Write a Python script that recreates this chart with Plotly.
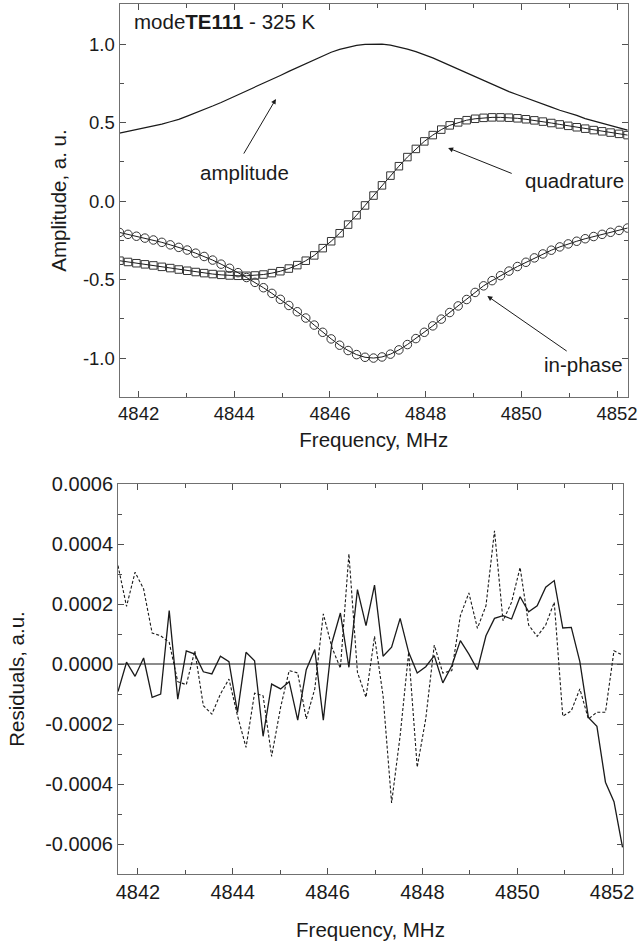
import plotly.graph_objects as go

# ---------------- data: top panel ----------------
freq_top = [4841.600, 4841.777, 4841.954, 4842.131, 4842.308, 4842.485, 4842.662, 4842.839,
            4843.016, 4843.193, 4843.370, 4843.547, 4843.724, 4843.901, 4844.078, 4844.255,
            4844.432, 4844.609, 4844.786, 4844.963, 4845.140, 4845.317, 4845.494, 4845.671,
            4845.848, 4846.025, 4846.202, 4846.379, 4846.556, 4846.733, 4846.910, 4847.087,
            4847.264, 4847.441, 4847.618, 4847.795, 4847.972, 4848.149, 4848.326, 4848.503,
            4848.680, 4848.857, 4849.034, 4849.211, 4849.388, 4849.565, 4849.742, 4849.919,
            4850.096, 4850.273, 4850.450, 4850.627, 4850.804, 4850.981, 4851.158, 4851.335,
            4851.512, 4851.689, 4851.866, 4852.043, 4852.220]

amplitude = [0.433, 0.444, 0.455, 0.466, 0.477, 0.490, 0.505, 0.520, 0.541, 0.561, 0.583,
             0.605, 0.628, 0.652, 0.676, 0.700, 0.724, 0.749, 0.775, 0.800, 0.826, 0.851,
             0.876, 0.900, 0.925, 0.948, 0.966, 0.980, 0.991, 0.998, 1.000, 0.999, 0.993,
             0.982, 0.968, 0.952, 0.933, 0.912, 0.888, 0.864, 0.840, 0.815, 0.790, 0.765,
             0.741, 0.718, 0.697, 0.677, 0.656, 0.636, 0.617, 0.598, 0.578, 0.562, 0.546,
             0.525, 0.510, 0.494, 0.480, 0.466, 0.452]

quadrature = [-0.380, -0.388, -0.396, -0.403, -0.410, -0.419, -0.427, -0.436, -0.444, -0.452,
              -0.459, -0.465, -0.470, -0.474, -0.476, -0.476, -0.474, -0.468, -0.459, -0.447,
              -0.430, -0.408, -0.380, -0.346, -0.300, -0.256, -0.205, -0.150, -0.090, -0.028,
              0.035, 0.100, 0.162, 0.222, 0.280, 0.332, 0.380, 0.420, 0.455, 0.482,
              0.501, 0.515, 0.524, 0.530, 0.533, 0.533, 0.531, 0.527, 0.521, 0.514,
              0.506, 0.497, 0.488, 0.479, 0.470, 0.461, 0.452, 0.444, 0.436, 0.428, 0.420]

in_phase = [-0.200, -0.212, -0.224, -0.236, -0.248, -0.263, -0.279, -0.295, -0.312, -0.332,
            -0.353, -0.376, -0.402, -0.428, -0.456, -0.487, -0.518, -0.552, -0.588, -0.626,
            -0.665, -0.705, -0.745, -0.790, -0.836, -0.878, -0.918, -0.952, -0.978, -0.995,
            -1.000, -0.993, -0.975, -0.948, -0.914, -0.876, -0.836, -0.795, -0.752, -0.710,
            -0.668, -0.627, -0.582, -0.540, -0.507, -0.475, -0.446, -0.417, -0.390, -0.362,
            -0.337, -0.313, -0.292, -0.273, -0.256, -0.240, -0.226, -0.212, -0.199, -0.187, -0.172]

# ---------------- data: residuals panel ----------------
freq_res = [4841.58, 4841.76, 4841.94, 4842.12, 4842.30, 4842.48, 4842.66, 4842.84, 4843.02,
            4843.20, 4843.38, 4843.56, 4843.74, 4843.92, 4844.10, 4844.28, 4844.46, 4844.64,
            4844.82, 4845.01, 4845.19, 4845.37, 4845.55, 4845.73, 4845.91, 4846.09, 4846.27,
            4846.45, 4846.63, 4846.81, 4846.99, 4847.17, 4847.35, 4847.53, 4847.71, 4847.89,
            4848.07, 4848.25, 4848.43, 4848.62, 4848.80, 4848.98, 4849.16, 4849.34, 4849.52,
            4849.70, 4849.88, 4850.06, 4850.24, 4850.42, 4850.60, 4850.78, 4850.96, 4851.14,
            4851.32, 4851.50, 4851.68, 4851.86, 4852.04, 4852.22]

res_solid = [-0.92, 0.06, -0.41, 0.20, -1.11, -1.00, 1.78, -1.17, 0.44, 0.33, -0.26, -0.33,
             0.26, 0.08, -1.61, 0.39, 0.11, -2.41, -0.67, -0.83, -0.59, -1.87, -0.19, 0.48,
             -1.87, 0.70, 1.70, -0.11, 2.48, 1.28, 2.63, 0.26, 0.56, 1.52, 0.39, -0.30,
             -0.09, 0.28, -0.63, -0.06, 0.78, 0.33, -0.19, 0.94, 1.52, 1.61, 1.50, 2.24,
             1.74, 1.94, 2.56, 2.78, 1.20, 1.22, 0.08, -1.78, -2.08, -3.94, -4.59, -6.11]

res_dashed = [3.28, 1.92, 3.06, 2.50, 1.03, 0.94, 0.72, -0.59, -0.69, 0.44, -1.39, -1.67,
              -1.00, -0.50, -1.72, -2.78, -0.97, -1.06, -3.08, -1.44, -0.22, -0.30, -1.83, -0.83,
              1.67, 0.56, -0.14, 3.67, -0.28, -1.11, 0.92, -1.06, -4.63, -2.39, 0.39, -3.44,
              -1.83, 0.63, -0.30, -0.22, 1.61, 2.37, 1.19, 1.94, 4.44, 1.44, 2.06, 3.22,
              1.30, 0.92, 1.30, 2.06, -1.74, -1.56, -0.83, -1.83, -1.61, -1.61, 0.44, 0.30]
res_scale = 1e-4

# ---------------- ticks ----------------
x_tickvals = [4842, 4844, 4846, 4848, 4850, 4852]
x_ticktext = ["4842", "4844", "4846", "4848", "4850", "4852"]
y1_tickvals = [-1.0, -0.5, 0.0, 0.5, 1.0]
y1_ticktext = ["-1.0", "-0.5", "0.0", "0.5", "1.0"]
y2_tickvals = [-0.0006, -0.0004, -0.0002, 0.0, 0.0002, 0.0004, 0.0006]
y2_ticktext = ["-0.0006", "-0.0004", "-0.0002", "0.0000", "0.0002", "0.0004", "0.0006"]

W, H = 643, 942
FONT = "Liberation Sans, Arial, Helvetica, sans-serif"
INK = "#1a1a1a"
AX = "#707070"
TK = "#505050"

fig = go.Figure()

fig.add_trace(go.Scatter(x=freq_top, y=amplitude, mode="lines",
                         line=dict(color=INK, width=1.2), xaxis="x", yaxis="y",
                         showlegend=False))
fig.add_trace(go.Scatter(x=freq_top, y=quadrature, mode="lines+markers",
                         line=dict(color=INK, width=1),
                         marker=dict(symbol="square-open", size=7.5, color="#333333",
                                     line=dict(width=1, color="#333333")),
                         xaxis="x", yaxis="y", showlegend=False))
fig.add_trace(go.Scatter(x=freq_top, y=in_phase, mode="lines+markers",
                         line=dict(color=INK, width=1),
                         marker=dict(symbol="circle-open", size=8.5, color="#333333",
                                     line=dict(width=1, color="#333333")),
                         xaxis="x", yaxis="y", showlegend=False))

fig.add_trace(go.Scatter(x=freq_res, y=[v * res_scale for v in res_solid], mode="lines",
                         line=dict(color=INK, width=1.3), xaxis="x2", yaxis="y2",
                         showlegend=False))
fig.add_trace(go.Scatter(x=freq_res, y=[v * res_scale for v in res_dashed], mode="lines",
                         line=dict(color=INK, width=1.1, dash="3px,2px"), xaxis="x2", yaxis="y2",
                         showlegend=False))


def axis_style(tick_size):
    return dict(showline=True, linecolor=AX, linewidth=1, mirror="allticks",
                ticks="inside", ticklen=6, tickwidth=1, tickcolor=TK,
                showgrid=False, zeroline=False, automargin=False,
                tickfont=dict(family=FONT, size=tick_size, color=INK))


TITLE_FONT = dict(family=FONT, size=20.5, color=INK)

fig.update_layout(
    width=W, height=H,
    margin=dict(l=0, r=0, t=0, b=0),
    paper_bgcolor="white", plot_bgcolor="white",
    font=dict(family=FONT, size=18, color=INK),
    xaxis=dict(domain=[119.5 / W, 628 / W], range=[4841.6, 4852.23],
               tickvals=x_tickvals, ticktext=x_ticktext, anchor="y",
               minor=dict(dtick=1, tick0=4842, ticks="inside", ticklen=4, tickcolor=TK),
               title=dict(text="Frequency, MHz", standoff=9, font=TITLE_FONT),
               **axis_style(18.5)),
    yaxis=dict(domain=[1 - 397 / H, 1 - 4 / H], range=[-1.248, 1.255],
               tickvals=y1_tickvals, ticktext=y1_ticktext, anchor="x",
               minor=dict(dtick=0.25, tick0=0, ticks="inside", ticklen=4, tickcolor=TK),
               title=dict(text="Amplitude, a. u.", standoff=10, font=TITLE_FONT),
               **axis_style(18.5)),
    xaxis2=dict(domain=[118 / W, 623 / W], range=[4841.58, 4852.23],
                tickvals=x_tickvals, ticktext=x_ticktext, anchor="y2",
                minor=dict(dtick=1, tick0=4842, ticks="inside", ticklen=4, tickcolor=TK),
                title=dict(text="Frequency, MHz", standoff=20, font=TITLE_FONT),
                **axis_style(20)),
    yaxis2=dict(domain=[1 - 874 / H, 1 - 484 / H], range=[-0.0007, 0.0006],
                tickvals=y2_tickvals, ticktext=y2_ticktext, anchor="x2",
                minor=dict(dtick=0.0001, tick0=0, ticks="inside", ticklen=4, tickcolor=TK),
                title=dict(text="Residuals, a.u.", standoff=14, font=TITLE_FONT),
                **axis_style(20)),
    shapes=[dict(type="line", xref="x2 domain", yref="y2", x0=0, x1=1, y0=0, y1=0,
                 line=dict(color=INK, width=1.2), layer="below")],
)

LBL = dict(family=FONT, size=20.5, color=INK)
annots = [
    dict(text="mode<b>TE111</b> - 325 K", xref="paper", yref="paper",
         x=132 / W, y=1 - 22 / H, xanchor="left", yanchor="middle", showarrow=False, font=LBL),
    dict(text="amplitude", xref="x", yref="y", x=4844.21, y=0.18, showarrow=False,
         xanchor="center", yanchor="middle", font=LBL),
    dict(text="quadrature", xref="x", yref="y", x=4851.11, y=0.134, showarrow=False,
         xanchor="center", yanchor="middle", font=LBL),
    dict(text="in-phase", xref="x", yref="y", x=4851.31, y=-1.04, showarrow=False,
         xanchor="center", yanchor="middle", font=LBL),
    # arrows
    dict(text="", xref="x", yref="y", x=4844.87, y=0.65, axref="x", ayref="y",
         ax=4844.18, ay=0.293, showarrow=True, arrowhead=2, arrowsize=1, arrowwidth=1,
         arrowcolor=INK),
    dict(text="", xref="x", yref="y", x=4848.47, y=0.338, axref="x", ayref="y",
         ax=4849.83, ay=0.172, showarrow=True, arrowhead=2, arrowsize=1, arrowwidth=1,
         arrowcolor=INK),
    dict(text="", xref="x", yref="y", x=4849.29, y=-0.605, axref="x", ayref="y",
         ax=4850.98, ay=-0.962, showarrow=True, arrowhead=2, arrowsize=1, arrowwidth=1,
         arrowcolor=INK),
]
fig.update_layout(annotations=annots)

fig.write_html("out.html", config={"displayModeBar": False},
               post_script="document.body.style.margin='0px';")
